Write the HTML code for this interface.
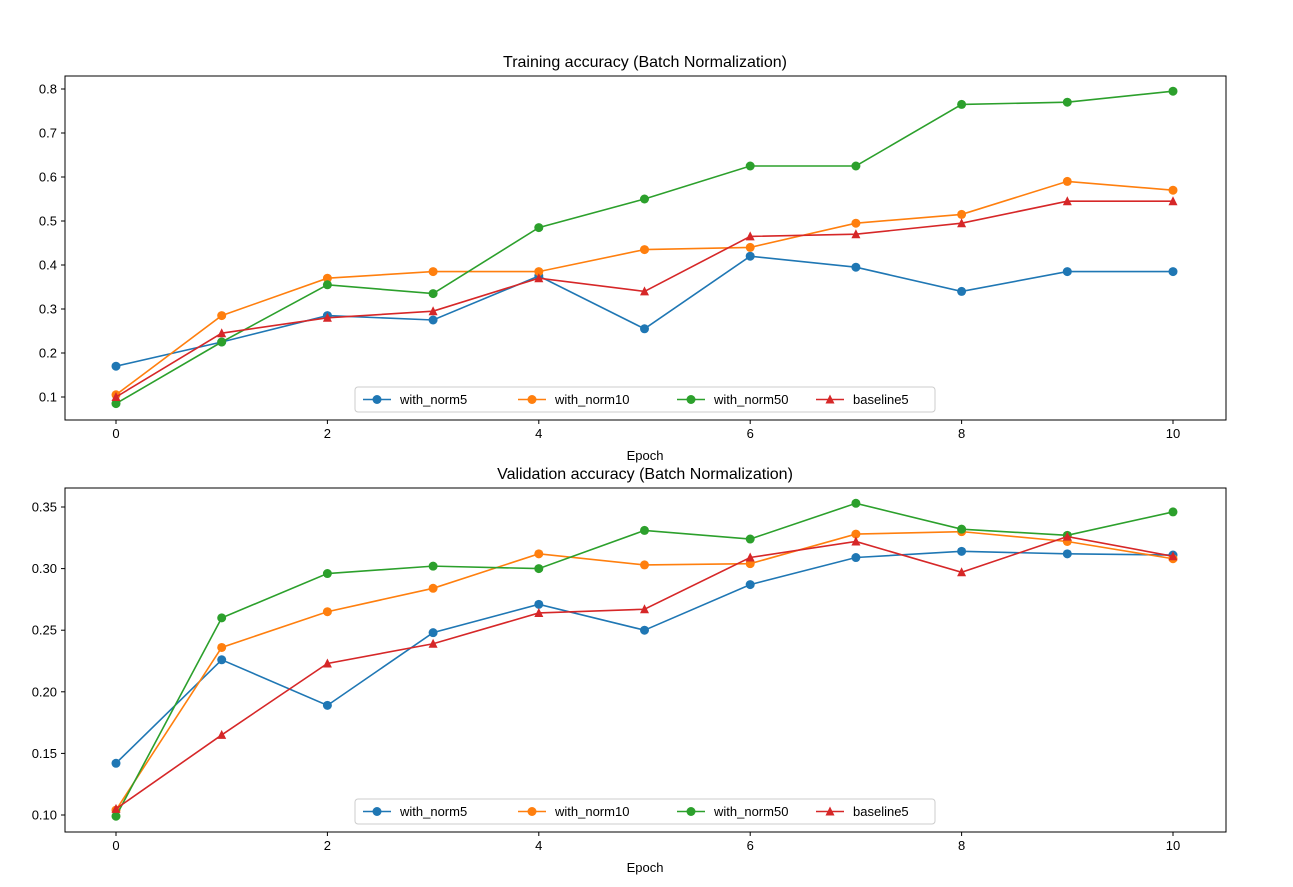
<!DOCTYPE html>
<html><head><meta charset="utf-8"><style>
body{margin:0;background:#fff}
svg{font-family:"Liberation Sans","DejaVu Sans",sans-serif}
</style></head><body>
<svg id="chart" width="1293" height="882" xmlns="http://www.w3.org/2000/svg"></svg>
<script>
const epochs=[0,1,2,3,4,5,6,7,8,9,10];
const seriesNames=["with_norm5","with_norm10","with_norm50","baseline5"];
const trainNorm5=[0.17,0.225,0.285,0.275,0.375,0.255,0.42,0.395,0.34,0.385,0.385];
const trainNorm10=[0.105,0.285,0.37,0.385,0.385,0.435,0.44,0.495,0.515,0.59,0.57];
const trainNorm50=[0.085,0.225,0.355,0.335,0.485,0.55,0.625,0.625,0.765,0.77,0.795];
const trainBaseline5=[0.1,0.245,0.28,0.295,0.37,0.34,0.465,0.47,0.495,0.545,0.545];
const valNorm5=[0.142,0.226,0.189,0.248,0.271,0.250,0.287,0.309,0.314,0.312,0.311];
const valNorm10=[0.104,0.236,0.265,0.284,0.312,0.303,0.304,0.328,0.330,0.322,0.308];
const valNorm50=[0.099,0.260,0.296,0.302,0.300,0.331,0.324,0.353,0.332,0.327,0.346];
const valBaseline5=[0.105,0.165,0.223,0.239,0.264,0.267,0.309,0.322,0.297,0.326,0.310];
const xTicks=[0,2,4,6,8,10];
const trainYTicks=[0.1,0.2,0.3,0.4,0.5,0.6,0.7,0.8];
const valYTicks=[0.10,0.15,0.20,0.25,0.30,0.35];
const colors=["#1f77b4","#ff7f0e","#2ca02c","#d62728"];
const NS="http://www.w3.org/2000/svg";
const svg=document.getElementById('chart');
function mk(t,a,p){const e=document.createElementNS(NS,t);for(const k in a)e.setAttribute(k,a[k]);(p||svg).appendChild(e);return e;}
function panel(cfg){
  const g=mk('g',{});
  
  
  const xs=v=>116+(v-0)*(1173-116)/10;
  const ys=v=>cfg.y0px+(v-cfg.y0)*(cfg.y1px-cfg.y0px)/(cfg.y1-cfg.y0);
  const fr=mk('rect',{x:65,y:cfg.top,width:1161,height:344,fill:'none',stroke:'#000','stroke-width':1},g);
  
  xTicks.forEach(t=>{const x=xs(t);mk('line',{x1:x,x2:x,y1:cfg.top+344,y2:cfg.top+348,stroke:'#000'},g);
    const tx=mk('text',{x:x,y:cfg.top+362,'font-size':13,'text-anchor':'middle'},g);tx.textContent=t;
    });
  cfg.yTicks.forEach(t=>{const y=ys(t);mk('line',{x1:61,x2:65,y1:y,y2:y,stroke:'#000'},g);
    const tx=mk('text',{x:57,y:y+4.5,'font-size':13,'text-anchor':'end'},g);tx.textContent=t.toFixed(cfg.dec);
    });
  const ti=mk('text',{x:645,y:cfg.top-9,'font-size':16,'text-anchor':'middle'},g);ti.textContent=cfg.title;
  
  const xl=mk('text',{x:645,y:cfg.top+384,'font-size':13,'text-anchor':'middle'},g);xl.textContent='Epoch';
  
  cfg.data.forEach((d,i)=>{
    const pts=d.map((v,j)=>xs(epochs[j])+','+ys(v)).join(' ');
    const l=mk('polyline',{points:pts,fill:'none',stroke:colors[i],'stroke-width':1.6},g);
    
    d.forEach((v,j)=>{const x=xs(epochs[j]),y=ys(v);let m;
      if(i===3)m=mk('polygon',{points:`${x},${y-5} ${x-4.5},${y+4} ${x+4.5},${y+4}`,fill:colors[i]},g);
      else m=mk('circle',{cx:x,cy:y,r:4.5,fill:colors[i]},g);
      });
  });
  const ly=cfg.top+311;
  const lg=mk('g',{},g);
  mk('rect',{x:355,y:ly,width:580,height:25,rx:3,fill:'#fff','fill-opacity':0.8,stroke:'#ccc'},lg);
  const lx=[363,518,677,816];
  seriesNames.forEach((n,i)=>{const x=lx[i],y=ly+12.5;
    const e=mk('g',{},lg);
    mk('line',{x1:x,x2:x+28,y1:y,y2:y,stroke:colors[i],'stroke-width':1.6},e);
    if(i===3)mk('polygon',{points:`${x+14},${y-5} ${x+9.5},${y+4} ${x+18.5},${y+4}`,fill:colors[i]},e);
    else mk('circle',{cx:x+14,cy:y,r:4.5,fill:colors[i]},e);
    const t=mk('text',{x:x+37,y:y+4.5,'font-size':13},e);t.textContent=n;});
}
panel({name:'training-panel',top:76,title:'Training accuracy (Batch Normalization)',y0:0.1,y1:0.8,y0px:397,y1px:89,yTicks:trainYTicks,dec:1,
  data:[trainNorm5,trainNorm10,trainNorm50,trainBaseline5]});
panel({name:'validation-panel',top:488,title:'Validation accuracy (Batch Normalization)',y0:0.10,y1:0.35,y0px:815,y1px:507,yTicks:valYTicks,dec:2,
  data:[valNorm5,valNorm10,valNorm50,valBaseline5]});
</script>
</body></html>
